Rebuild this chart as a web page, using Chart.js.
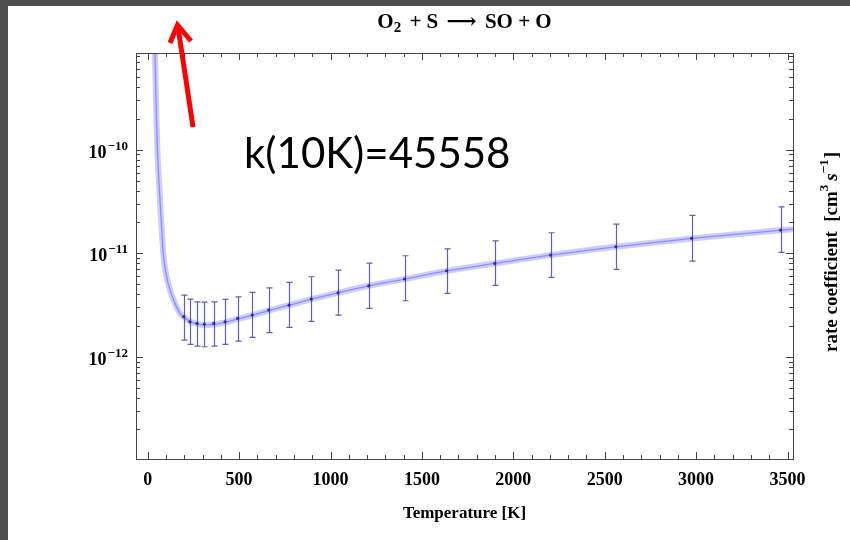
<!DOCTYPE html>
<html>
<head>
<meta charset="utf-8">
<title>O2 + S -> SO + O rate coefficient</title>
<script src="https://cdn.jsdelivr.net/npm/chart.js@4.4.1/dist/chart.umd.min.js"></script>
<style>
  html, body { margin: 0; padding: 0; background: #fff; }
  #wrap { position: relative; width: 850px; height: 540px; }
</style>
</head>
<body>
<div id="wrap"><canvas id="rateChart" width="850" height="540"></canvas></div>
<script>
// fitted rate coefficient curve, cm^3 s^-1
const fitTemps = [40, 45, 53, 64, 75, 85, 100, 122, 149, 177, 197, 231, 270, 313, 361, 423, 492, 572, 662, 773, 895, 1041, 1209, 1405, 1635, 1899, 2204, 2561, 2975, 3462, 3530];
const fitRates = [8.7e-10, 3.0e-10, 1.0e-10, 4.1e-11, 1.95e-11, 1.0e-11, 6.4e-12, 4.4e-12, 3.3e-12, 2.62e-12, 2.42e-12, 2.2e-12, 2.08e-12, 2.03e-12, 2.05e-12, 2.15e-12, 2.32e-12, 2.52e-12, 2.8e-12, 3.15e-12, 3.6e-12, 4.15e-12, 4.85e-12, 5.64e-12, 6.75e-12, 7.98e-12, 9.6e-12, 1.155e-11, 1.39e-11, 1.67e-11, 1.71e-11];

// computed rates with their uncertainty range
const pointTemps = [197, 231, 270, 310, 361, 423, 492, 572, 662, 773, 895, 1041, 1209, 1405, 1635, 1899, 2204, 2561, 2975, 3462];
const pointRates = [2.44e-12, 2.18e-12, 2.10e-12, 2.07e-12, 2.10e-12, 2.18e-12, 2.35e-12, 2.53e-12, 2.83e-12, 3.16e-12, 3.61e-12, 4.15e-12, 4.85e-12, 5.64e-12, 6.78e-12, 7.98e-12, 9.61e-12, 1.156e-11, 1.393e-11, 1.675e-11];
const pointLow = [1.45e-12, 1.32e-12, 1.27e-12, 1.25e-12, 1.27e-12, 1.32e-12, 1.42e-12, 1.54e-12, 1.71e-12, 1.92e-12, 2.20e-12, 2.53e-12, 2.94e-12, 3.48e-12, 4.10e-12, 4.90e-12, 5.85e-12, 6.99e-12, 8.41e-12, 1.02e-11];
const pointHigh = [3.95e-12, 3.61e-12, 3.40e-12, 3.38e-12, 3.40e-12, 3.59e-12, 3.80e-12, 4.19e-12, 4.64e-12, 5.23e-12, 5.93e-12, 6.88e-12, 8.04e-12, 9.46e-12, 1.105e-11, 1.32e-11, 1.578e-11, 1.915e-11, 2.32e-11, 2.81e-11];

// axis ticks
const xTickLabels = [0, 500, 1000, 1500, 2000, 2500, 3000, 3500];
const yTickExponents = [-12, -11, -10];

const noteText = 'k(10K)=45558';

const SERIF = '"Liberation Serif", "Times New Roman", "DejaVu Serif", serif';

function pts(xs, ys) {
  return xs.map((x, i) => ({ x: x, y: ys[i] }));
}

// draws a list of text runs one after another; each run may be raised or lowered
function drawRuns(ctx, runs, x, y, align) {
  let total = 0;
  runs.forEach(r => {
    ctx.font = r.font;
    r.w = ctx.measureText(r.text).width;
    total += r.w + (r.gap || 0);
  });
  let cx = align === 'center' ? x - total / 2 : (align === 'right' ? x - total : x);
  ctx.textAlign = 'left';
  ctx.textBaseline = 'alphabetic';
  runs.forEach(r => {
    ctx.font = r.font;
    ctx.fillText(r.text, cx + (r.gap || 0), y + (r.dy || 0));
    cx += r.w + (r.gap || 0);
  });
}

const errorBars = {
  id: 'errorBars',
  beforeDatasetDraw(chart, args) {
    if (args.index !== 0) return;
    const { ctx, scales: { x, y } } = chart;
    ctx.save();
    ctx.strokeStyle = 'rgba(50, 50, 160, 0.78)';
    ctx.lineWidth = 1.2;
    pointTemps.forEach((t, i) => {
      const px = Math.round(x.getPixelForValue(t)) + 0.5;
      const top = y.getPixelForValue(pointHigh[i]);
      const bot = y.getPixelForValue(pointLow[i]);
      ctx.beginPath();
      ctx.moveTo(px, top); ctx.lineTo(px, bot);
      ctx.moveTo(px - 3, top); ctx.lineTo(px + 3, top);
      ctx.moveTo(px - 3, bot); ctx.lineTo(px + 3, bot);
      ctx.stroke();
    });
    ctx.restore();
  }
};

const frameAndText = {
  id: 'frameAndText',
  afterDraw(chart) {
    const { ctx, chartArea: a, scales: { x, y } } = chart;
    ctx.save();

    // frame
    ctx.strokeStyle = '#444';
    ctx.lineWidth = 1;
    ctx.strokeRect(Math.round(a.left) + 0.5, Math.round(a.top) + 0.5,
      Math.round(a.right - a.left), Math.round(a.bottom - a.top));

    // x ticks on bottom and top, minor every 100
    ctx.beginPath();
    for (let v = 0; v <= x.max; v += 100) {
      const px = Math.round(x.getPixelForValue(v)) + 0.5;
      const len = v % 500 === 0 ? 7 : 4;
      ctx.moveTo(px, a.bottom); ctx.lineTo(px, a.bottom - len);
      ctx.moveTo(px, a.top); ctx.lineTo(px, a.top + len);
    }
    // y ticks on left and right, minor at 2..9 of each decade
    for (let e = -14; e <= -9; e++) {
      for (let m = 1; m <= 9; m++) {
        const v = m * Math.pow(10, e);
        if (v < y.min || v > y.max) continue;
        const py = Math.round(y.getPixelForValue(v)) + 0.5;
        const len = m === 1 ? 7 : 4;
        ctx.moveTo(a.left, py); ctx.lineTo(a.left + len, py);
        ctx.moveTo(a.right, py); ctx.lineTo(a.right - len, py);
      }
    }
    ctx.stroke();

    ctx.fillStyle = '#000';

    // y tick labels as powers of ten
    yTickExponents.forEach(e => {
      const py = y.getPixelForValue(Math.pow(10, e));
      drawRuns(ctx, [
        { text: '10', font: 'bold 18px ' + SERIF, dy: 8 },
        { text: '\u2212' + Math.abs(e), font: 'bold 13px ' + SERIF, dy: 0, gap: 1 }
      ], a.left - 8, py, 'right');
    });

    // plot title
    drawRuns(ctx, [
      { text: 'O', font: 'bold 21px ' + SERIF },
      { text: '2', font: 'bold 15px ' + SERIF, dy: 4 },
      { text: ' + S ', font: 'bold 21px ' + SERIF, gap: 3 },
      { text: '\u27F6', font: 'bold 21px ' + SERIF, gap: 3 },
      { text: ' SO + O', font: 'bold 21px ' + SERIF, gap: 3 }
    ], (a.left + a.right) / 2, 28, 'center');

    // rotated label on the right
    ctx.save();
    ctx.translate(837, (a.top + a.bottom) / 2 - 4);
    ctx.rotate(-Math.PI / 2);
    drawRuns(ctx, [
      { text: 'rate coefficient  [cm', font: 'bold 19px ' + SERIF },
      { text: '3', font: 'bold 13px ' + SERIF, dy: -9 },
      { text: 's', font: 'italic bold 19px ' + SERIF, gap: 4 },
      { text: '\u22121', font: 'bold 13px ' + SERIF, dy: -9 },
      { text: ']', font: 'bold 19px ' + SERIF, gap: 1 }
    ], 0, 0, 'center');
    ctx.restore();

    // note and arrow
    ctx.font = '42px Lato, "Open Sans", sans-serif';
    ctx.textAlign = 'left';
    ctx.textBaseline = 'alphabetic';
    ctx.fillText(noteText, 244, 168);

    ctx.strokeStyle = '#ff0000';
    ctx.lineWidth = 5;
    ctx.lineCap = 'butt';
    ctx.lineJoin = 'miter';
    ctx.beginPath();
    ctx.moveTo(193, 127);
    ctx.lineTo(178, 27);
    ctx.stroke();
    ctx.beginPath();
    ctx.moveTo(170, 43);
    ctx.lineTo(177.5, 25);
    ctx.lineTo(191, 41);
    ctx.stroke();

    // dark border strips
    ctx.fillStyle = '#4e4e4e';
    ctx.fillRect(0, 0, 850, 6);
    ctx.fillRect(0, 0, 8, 540);

    ctx.restore();
  }
};

new Chart(document.getElementById('rateChart'), {
  type: 'scatter',
  data: {
    datasets: [
      {
        label: 'computed',
        data: pts(pointTemps, pointRates),
        pointRadius: 1.6,
        pointBackgroundColor: 'rgba(40, 40, 140, 0.9)',
        pointBorderWidth: 0,
        showLine: false
      },
      {
        label: 'fit',
        data: pts(fitTemps, fitRates),
        showLine: true,
        borderColor: 'rgba(100, 100, 250, 0.6)',
        borderWidth: 1.3,
        pointRadius: 0,
        cubicInterpolationMode: 'monotone'
      },
      {
        label: 'fit band',
        data: pts(fitTemps, fitRates),
        showLine: true,
        borderColor: 'rgba(120, 120, 255, 0.38)',
        borderWidth: 6,
        pointRadius: 0,
        cubicInterpolationMode: 'monotone'
      }
    ]
  },
  options: {
    responsive: false,
    animation: false,
    events: [],
    layout: { padding: { top: 53, right: 57, left: 0, bottom: 0 } },
    plugins: {
      legend: { display: false },
      tooltip: { enabled: false }
    },
    scales: {
      x: {
        type: 'linear',
        position: 'bottom',
        min: -64,
        max: 3530,
        grid: { display: false },
        border: { display: false },
        afterBuildTicks: s => {
          s.ticks = xTickLabels.map(v => ({ value: v }));
        },
        ticks: {
          autoSkip: false,
          maxRotation: 0,
          padding: 3,
          color: '#000',
          font: { family: SERIF, size: 18, weight: 'bold' },
          callback: v => String(v)
        },
        title: {
          display: true,
          text: 'Temperature [K]',
          color: '#000',
          font: { family: SERIF, size: 17, weight: 'bold' },
          padding: { top: 0, bottom: 16 }
        },
        afterFit: s => { s.height = 81; }
      },
      y: {
        type: 'logarithmic',
        min: 1.03e-13,
        max: 8.6e-10,
        grid: { display: false },
        border: { display: false },
        ticks: { display: false },
        afterFit: s => { s.width = 136; }
      }
    }
  },
  plugins: [errorBars, frameAndText]
});
</script>
</body>
</html>
